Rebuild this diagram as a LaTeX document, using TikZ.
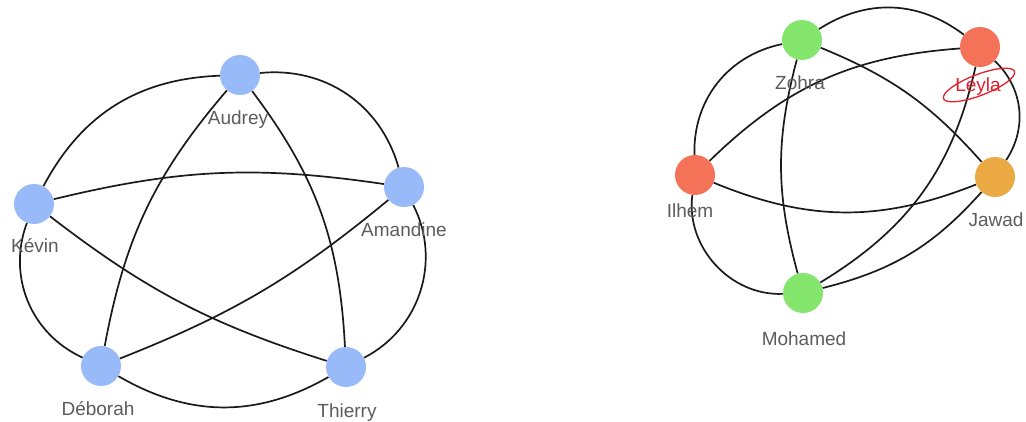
\documentclass[tikz,border=0pt]{standalone}
\usepackage{fontspec}
\setmainfont{Liberation Sans}
\usetikzlibrary{backgrounds}
\definecolor{nblue}{HTML}{98BAF9}
\definecolor{ngreen}{HTML}{85E66E}
\definecolor{norange}{HTML}{EBA944}
\definecolor{nred}{HTML}{F47258}
\definecolor{hired}{HTML}{E0202E}
\definecolor{lblgray}{HTML}{5C5C5C}
\definecolor{edgecol}{HTML}{1A1A1A}
\tikzset{
  vertex/.style={circle, minimum size=40pt, inner sep=0pt, draw=none},
  lbl/.style={anchor=base, text=lblgray, font=\fontsize{19}{22}\selectfont, inner sep=0pt},
  edge/.style={line width=1.7pt, draw=edgecol}
}
\begin{document}
\begin{tikzpicture}[x=1pt,y=1pt]
\useasboundingbox (0,0) rectangle (1026,421);
% left graph
\node[vertex, fill=nblue] (A)  at (240,346) {};
\node[vertex, fill=nblue] (Am) at (404,234) {};
\node[vertex, fill=nblue] (K)  at (34,217) {};
\node[vertex, fill=nblue] (D)  at (101,55) {};
\node[vertex, fill=nblue] (T)  at (346,54) {};
% right graph
\node[vertex, fill=ngreen]  (Z) at (802,381) {};
\node[vertex, fill=nred]    (L) at (980,374) {};
\node[vertex, fill=nred]    (I) at (695,246) {};
\node[vertex, fill=norange] (J) at (995,244) {};
\node[vertex, fill=ngreen]  (M) at (803,128) {};
\begin{scope}[on background layer]
\draw[edge] (A) to[bend left=40] (Am);
\draw[edge] (K) to[bend left=30] (A);
\draw[edge] (K) to[bend right=43] (D);
\draw[edge] (D) to[bend right=30] (T);
\draw[edge] (T) to[bend right=45] (Am);
\draw[edge] (A) to[bend right=15] (D);
\draw[edge] (A) to[bend left=17] (T);
\draw[edge] (K) to[bend left=11] (Am);
\draw[edge] (K) to[bend right=10] (T);
\draw[edge] (Am) to[bend left=9] (D);
\draw[edge] (Z) to[bend left=35] (L);
\draw[edge] (Z) to[bend right=40] (I);
\draw[edge] (Z) to[bend right=15] (M);
\draw[edge] (Z) to[bend left=13] (J);
\draw[edge] (L) to[bend right=20] (I);
\draw[edge] (L) to[bend left=23] (M);
\draw[edge] (L) to[bend left=40] (J);
\draw[edge] (I) to[bend right=22] (J);
\draw[edge] (I) to[bend right=50] (M);
\draw[edge] (J) to[bend left=17] (M);
\end{scope}
% labels
\node[lbl] (lA)  at (238,296) {Audrey};
\node[lbl] (lAm) at (404,184) {Amandine};
\node[lbl] (lK)  at (35,168)  {Kévin};
\node[lbl] (lD)  at (98,6)    {Déborah};
\node[lbl] (lT)  at (347,4)   {Thierry};
\node[lbl] (lZ)  at (800,331) {Zohra};
\node[lbl, text=hired] (lL) at (978,329) {Leyla};
\node[lbl] (lI)  at (690,204) {Ilhem};
\node[lbl] (lJ)  at (996,194) {Jawad};
\node[lbl] (lM)  at (804,76)  {Mohamed};
\draw[draw=hired, line width=1.3pt, rotate around={21:(979,336)}] (979,336) ellipse [x radius=38pt, y radius=10.5pt];
\end{tikzpicture}
\end{document}
